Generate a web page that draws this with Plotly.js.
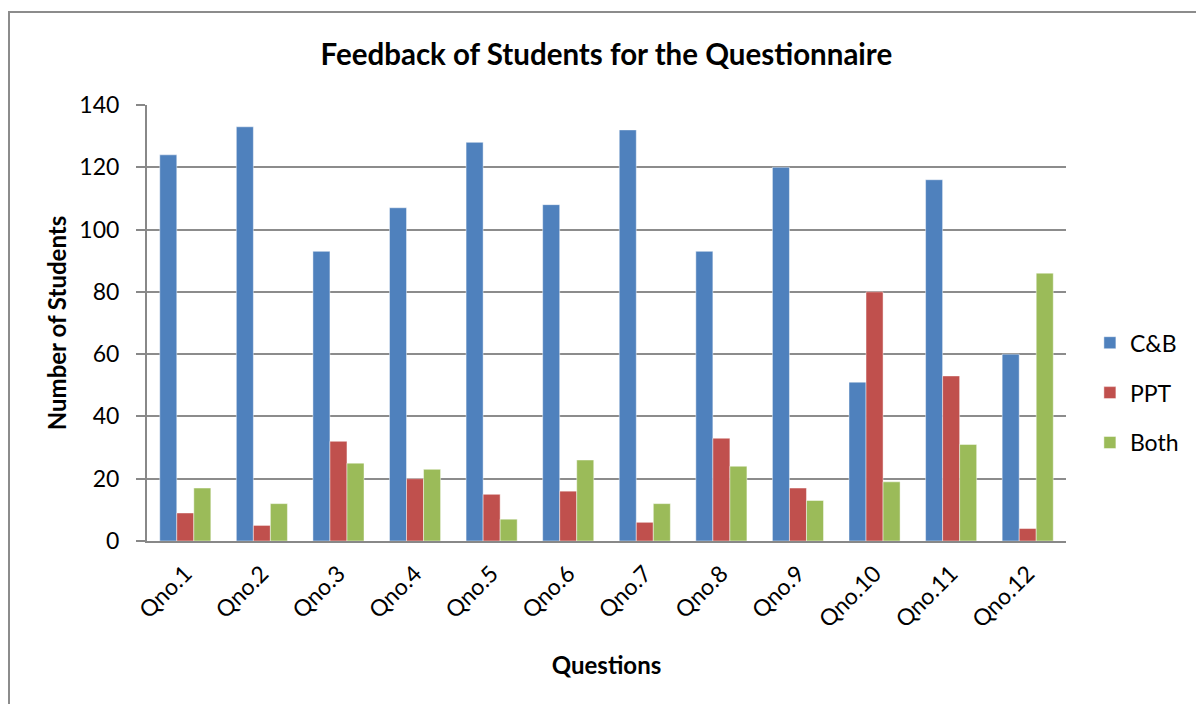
<!DOCTYPE html>
<html>
<head>
<meta charset="utf-8">
<script src="https://cdn.plot.ly/plotly-3.0.1.min.js"></script>
<style>
body{margin:0;padding:0;background:#fff;overflow:hidden;}
#chart{width:1196px;height:704px;position:absolute;left:0;top:0;}
#frame{position:absolute;left:8px;top:11px;width:1200px;height:720px;border:2px solid #8c8c8c;pointer-events:none;}
</style>
</head>
<body>
<div id="chart"></div>
<div id="frame"></div>
<script>
var categories = ["Qno.1","Qno.2","Qno.3","Qno.4","Qno.5","Qno.6","Qno.7","Qno.8","Qno.9","Qno.10","Qno.11","Qno.12"];
var cbValues   = [124,133,93,107,128,108,132,93,120,51,116,60];
var pptValues  = [9,5,32,20,15,16,6,33,17,80,53,4];
var bothValues = [17,12,25,23,7,26,12,24,13,19,31,86];
var yTicks = [0,20,40,60,80,100,120,140];

var fontFam = "Lato, 'Open Sans', sans-serif";
function mk(name, vals, color, grp){
  return {type:'bar', name:name, x:categories, y:vals, legendgroup:grp,
    marker:{color:color, line:{color:'rgba(255,255,255,0.45)', width:1}}};
}
var data = [
  mk('C&B', cbValues, '#4f81bd', 'a'),
  mk('PPT', pptValues, '#c0504d', 'b'),
  mk('Both', bothValues, '#9bbb59', 'c')
];
var layout = {
  width:1196, height:704,
  margin:{l:147, r:130, t:105, b:163},
  paper_bgcolor:'rgba(0,0,0,0)', plot_bgcolor:'#fff',
  font:{family:fontFam, color:'#000', size:23},
  title:{text:'<b>Feedback of Students for the Questionnaire</b>', x:0.507, xanchor:'center', y:0.922, yanchor:'middle', font:{size:29.5, family:fontFam}},
  barmode:'group', bargap:0.333, bargroupgap:0,
  xaxis:{title:{text:'<b>Questions</b>', font:{size:24}, standoff:26}, tickangle:-45, showline:true, linecolor:'#888', linewidth:2, ticks:'', tickfont:{size:23}, ticklabelstandoff:8, showgrid:false, automargin:false},
  yaxis:{title:{text:'<b>Number of Students</b>', font:{size:24}, standoff:6}, range:[0,140], tickvals:yTicks, showline:true, linecolor:'#888', linewidth:2, gridcolor:'#8c8c8c', gridwidth:2, ticks:'outside', ticklen:9, tickcolor:'#888', tickwidth:2, tickfont:{size:23}, ticklabelstandoff:12, zeroline:false, automargin:false},
  legend:{x:1.026, xanchor:'left', y:0.34, yanchor:'middle', traceorder:'grouped', tracegroupgap:17, font:{size:23}, itemwidth:30}
};
Plotly.newPlot('chart', data, layout, {displayModeBar:false, staticPlot:true});
</script>
</body>
</html>
